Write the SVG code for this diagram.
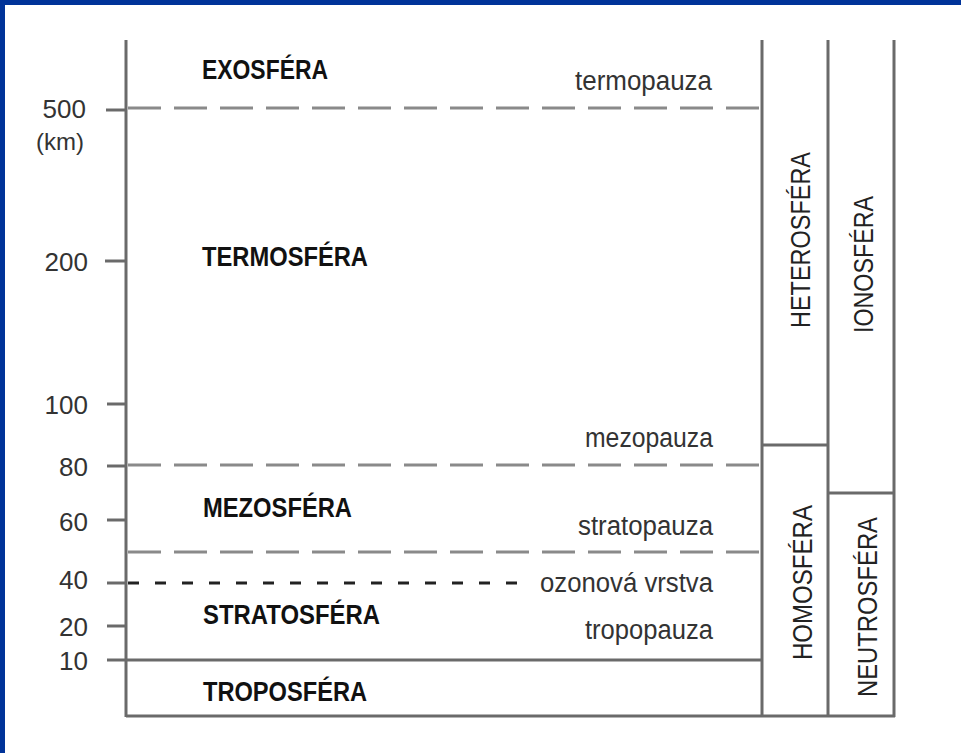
<svg xmlns="http://www.w3.org/2000/svg" width="961" height="753" viewBox="0 0 961 753">
<style>
.frame{fill:#003399}
.ln{stroke:#6a6a6a;stroke-width:3;fill:none}
.dash{stroke:#8a8a8a;stroke-width:3;fill:none;stroke-dasharray:33 13}
.oz{stroke:#222;stroke-width:3;fill:none;stroke-dasharray:11 16}
.num{font-family:"Liberation Sans",Arial,sans-serif;font-size:26px;fill:#333;text-anchor:end}
.lay{font-family:"Liberation Sans",Arial,sans-serif;font-size:27px;font-weight:bold;fill:#111}
.pz{font-family:"Liberation Sans",Arial,sans-serif;font-size:27px;fill:#333}
.vt{font-family:"Liberation Sans",Arial,sans-serif;font-size:27px;fill:#222}
</style>
<rect width="961" height="753" fill="#ffffff"/>
<rect class="frame" x="0" y="0" width="961" height="5"/>
<rect class="frame" x="0" y="0" width="5" height="753"/>
<g id="connectors">
<line class="ln" x1="126" y1="40" x2="126" y2="717"/>
<line class="ln" x1="762" y1="40" x2="762" y2="717"/>
<line class="ln" x1="828" y1="40" x2="828" y2="717"/>
<line class="ln" x1="894" y1="40" x2="894" y2="717"/>
<line class="ln" x1="126" y1="716" x2="895" y2="716"/>
<line class="ln" x1="762" y1="445" x2="828" y2="445"/>
<line class="ln" x1="828" y1="493" x2="894" y2="493"/>
<line class="ln" x1="107" y1="660" x2="762" y2="660"/>
<line class="ln" x1="106" y1="110" x2="126" y2="110"/>
<line class="ln" x1="105" y1="261" x2="126" y2="261"/>
<line class="ln" x1="107" y1="404" x2="126" y2="404"/>
<line class="ln" x1="107" y1="466" x2="126" y2="466"/>
<line class="ln" x1="107" y1="520" x2="126" y2="520"/>
<line class="ln" x1="107" y1="583" x2="126" y2="583"/>
<line class="ln" x1="107" y1="626" x2="126" y2="626"/>
<line class="dash" x1="128" y1="108" x2="762" y2="108"/>
<line class="dash" x1="128" y1="465" x2="762" y2="465"/>
<line class="dash" x1="128" y1="552" x2="762" y2="552"/>
<line class="oz" x1="128" y1="583" x2="527" y2="583"/>
</g>
<g id="axis-labels">
<text class="num" x="86" y="118">500</text>
<text class="num" x="84" y="150" style="font-size:24px">(km)</text>
<text class="num" x="88" y="271">200</text>
<text class="num" x="88" y="414">100</text>
<text class="num" x="88" y="476">80</text>
<text class="num" x="88" y="531">60</text>
<text class="num" x="88" y="589">40</text>
<text class="num" x="88" y="636">20</text>
<text class="num" x="88" y="670">10</text>
</g>
<g id="exosfera"><text class="lay" x="202" y="79" textLength="126" lengthAdjust="spacingAndGlyphs">EXOSFÉRA</text></g>
<g id="termosfera"><text class="lay" x="202" y="266" textLength="166" lengthAdjust="spacingAndGlyphs">TERMOSFÉRA</text></g>
<g id="mezosfera"><text class="lay" x="203" y="517" textLength="149" lengthAdjust="spacingAndGlyphs">MEZOSFÉRA</text></g>
<g id="stratosfera"><text class="lay" x="203" y="624" textLength="177" lengthAdjust="spacingAndGlyphs">STRATOSFÉRA</text></g>
<g id="troposfera"><text class="lay" x="203" y="701" textLength="164" lengthAdjust="spacingAndGlyphs">TROPOSFÉRA</text></g>
<g id="termopauza"><text class="pz" x="575" y="90" textLength="137" lengthAdjust="spacingAndGlyphs">termopauza</text></g>
<g id="mezopauza"><text class="pz" x="585" y="447" textLength="128" lengthAdjust="spacingAndGlyphs">mezopauza</text></g>
<g id="stratopauza"><text class="pz" x="578" y="535" textLength="135" lengthAdjust="spacingAndGlyphs">stratopauza</text></g>
<g id="ozonova-vrstva"><text class="pz" x="540" y="592" textLength="173" lengthAdjust="spacingAndGlyphs">ozonová vrstva</text></g>
<g id="tropopauza"><text class="pz" x="585" y="639" textLength="128" lengthAdjust="spacingAndGlyphs">tropopauza</text></g>
<g id="heterosfera"><text class="vt" transform="translate(810,328) rotate(-90)" x="0" y="0" textLength="176" lengthAdjust="spacingAndGlyphs">HETEROSFÉRA</text></g>
<g id="ionosfera"><text class="vt" transform="translate(873,333) rotate(-90)" x="0" y="0" textLength="137" lengthAdjust="spacingAndGlyphs">IONOSFÉRA</text></g>
<g id="homosfera"><text class="vt" transform="translate(812,660) rotate(-90)" x="0" y="0" textLength="155" lengthAdjust="spacingAndGlyphs">HOMOSFÉRA</text></g>
<g id="neutrosfera"><text class="vt" transform="translate(877,697) rotate(-90)" x="0" y="0" textLength="180" lengthAdjust="spacingAndGlyphs">NEUTROSFÉRA</text></g>
</svg>
